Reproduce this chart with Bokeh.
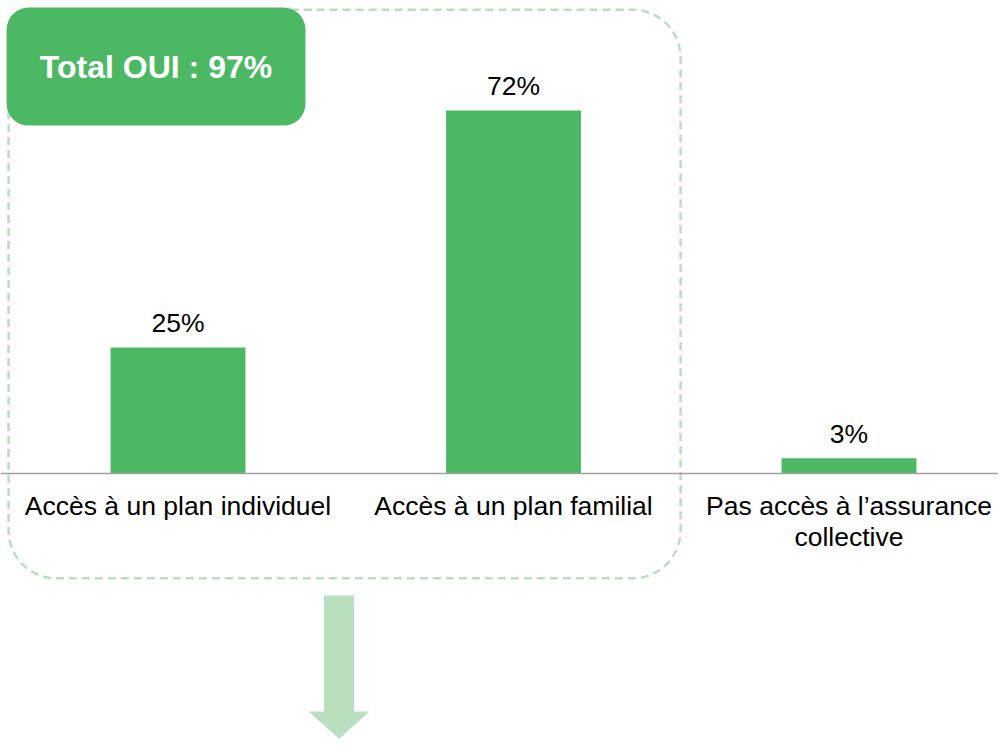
from bokeh.plotting import figure
from bokeh.models import Range1d, Span, BoxAnnotation, Label, ColumnDataSource
from bokeh.core.properties import value
from bokeh.embed import file_html
from bokeh.resources import INLINE

# ---- data ----
categories = ["Accès à un plan individuel", "Accès à un plan familial",
              "Pas accès à l\u2019assurance\ncollective"]
values = [25, 72, 3]
value_labels = ["25%", "72%", "3%"]
total_label = "Total OUI : 97%"

# ---- layout parameters ----
W, H = 998, 739
PX_PER_CAT = 335.5
PX_PER_UNIT = 5.042
ZERO_PX = 473            # distance of the baseline from the top of the figure
X0 = -177.5 / PX_PER_CAT
X1 = X0 + W / PX_PER_CAT
Y1 = ZERO_PX / PX_PER_UNIT
Y0 = -(H - ZERO_PX) / PX_PER_UNIT

GREEN = "#4cb864"
LIGHT = "#b9dfbf"
FONT = "Liberation Sans"

p = figure(width=W, height=H, output_backend="svg", toolbar_location=None,
           x_range=Range1d(X0, X1), y_range=Range1d(Y0, Y1),
           min_border=0, min_border_left=0, min_border_right=0,
           min_border_top=0, min_border_bottom=0)
p.axis.visible = False
p.grid.visible = False
p.outline_line_color = None
p.background_fill_color = "white"

xs = list(range(len(categories)))
src = ColumnDataSource(dict(x=xs, top=values, lab=value_labels, cat=categories))

# dashed rounded group box (covers first two categories)
p.add_layout(BoxAnnotation(left=-0.505, right=1.498, top=92.0, bottom=-20.8,
                           fill_color=None, fill_alpha=0,
                           line_color=LIGHT, line_alpha=1.0, line_width=2.5,
                           line_dash="8 5", border_radius=48, level="underlay"))

# bars
p.vbar(x="x", top="top", width=0.402, bottom=0, source=src,
       fill_color=GREEN, line_color=None)

# baseline
p.add_layout(Span(location=0, dimension="width", line_color="#a0a0a0", line_width=1.5))

# value labels
p.text(x="x", y="top", text="lab", source=src, text_align="center",
       text_baseline="bottom", y_offset=-9, text_font=value(FONT),
       text_font_size="26.5px", text_color="#000000")

# category labels
p.text(x="x", y=0, text="cat", source=src, text_align="center",
       text_baseline="top", y_offset=17, text_font=value(FONT),
       text_font_size="26.5px", text_color="#000000", text_line_height=1.05)

# "Total OUI" box
box_left, box_right = -0.511, 0.380
box_top, box_bottom = 92.4, 69.0
p.add_layout(BoxAnnotation(left=box_left, right=box_right, top=box_top, bottom=box_bottom,
                           fill_color=GREEN, fill_alpha=1.0, line_color=None,
                           border_radius=22))
p.add_layout(Label(x=(box_left + box_right) / 2, y=(box_top + box_bottom) / 2,
                   text=total_label, text_align="center", text_baseline="middle",
                   text_font=FONT, text_font_style="bold", text_font_size="32px",
                   text_color="white"))

# downward arrow below the group
ax = 0.480
shaft_hw = 0.0447
head_hw = 0.091
y_start, y_neck, y_tip = -24.2, -47.2, -52.6
p.patch(x=[ax - shaft_hw, ax + shaft_hw, ax + shaft_hw, ax + head_hw, ax, ax - head_hw, ax - shaft_hw],
        y=[y_start, y_start, y_neck, y_neck, y_tip, y_neck, y_neck],
        fill_color=LIGHT, line_color=None)

open("out.html", "w").write(file_html(p, INLINE))
